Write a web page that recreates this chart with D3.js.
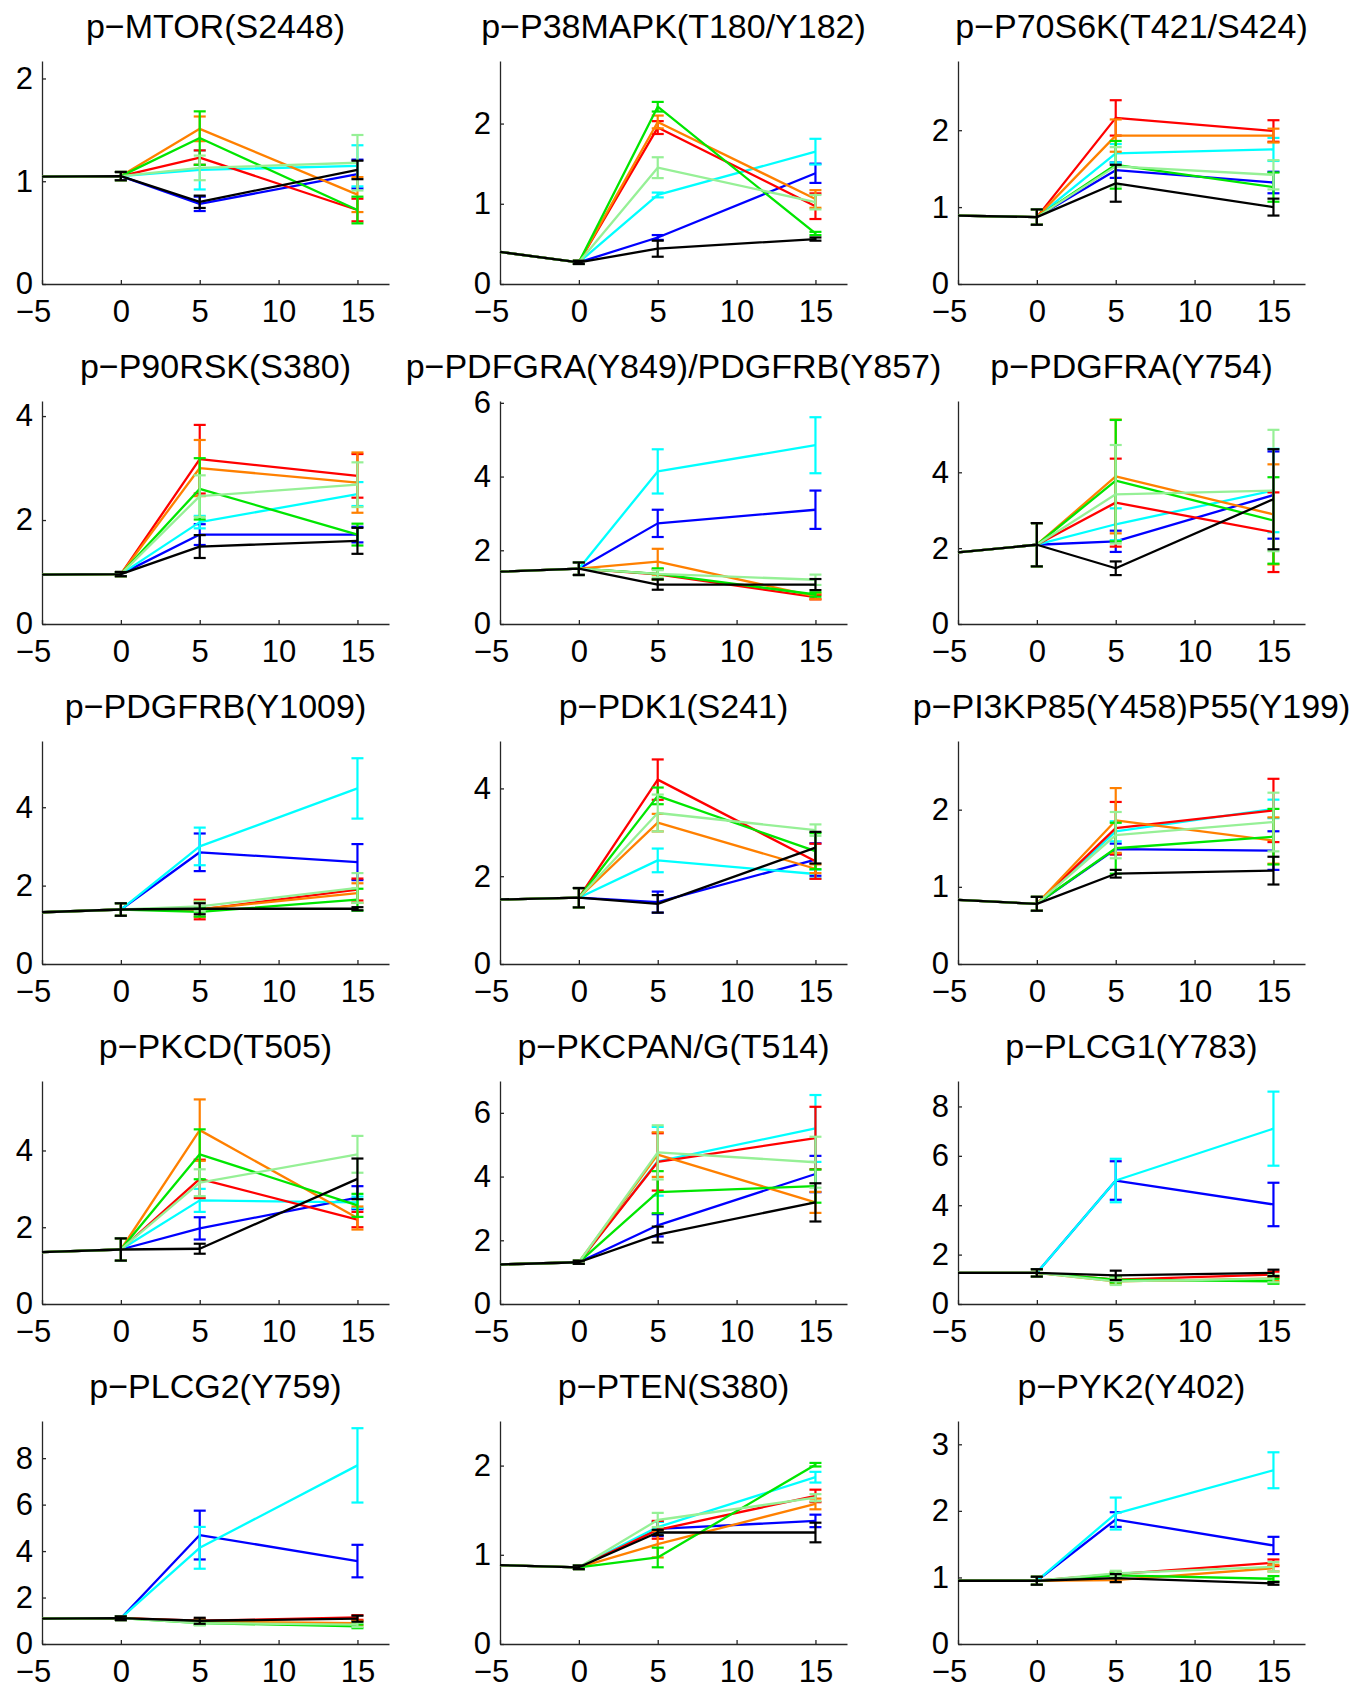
<!DOCTYPE html>
<html lang="en">
<head>
    <meta charset="UTF-8">
    <title>Phospho time courses</title>
    <script src="https://d3js.org/d3.v7.min.js"></script>
    <style>
        body { margin: 0; background: white; }
        svg text { font-family: 'Liberation Sans', Arial, Helvetica, sans-serif; fill: black; }
        .axis path, .axis line { stroke: #262626; stroke-width: 1.3; }
    </style>
</head>
<body>
    <div id="container"></div>
    <script>
        // panel titles
        const titles = [
            'p\u2212MTOR(S2448)', 'p\u2212P38MAPK(T180/Y182)', 'p\u2212P70S6K(T421/S424)',
            'p\u2212P90RSK(S380)', 'p\u2212PDFGRA(Y849)/PDGFRB(Y857)', 'p\u2212PDGFRA(Y754)',
            'p\u2212PDGFRB(Y1009)', 'p\u2212PDK1(S241)', 'p\u2212PI3KP85(Y458)P55(Y199)',
            'p\u2212PKCD(T505)', 'p\u2212PKCPAN/G(T514)', 'p\u2212PLCG1(Y783)',
            'p\u2212PLCG2(Y759)', 'p\u2212PTEN(S380)', 'p\u2212PYK2(Y402)'
        ];
        const times = [-5, 0, 5, 15];
        const xTicks = [-5, 0, 5, 10, 15];
        const yMax = [2.17, 2.78, 2.9, 4.29, 6.05, 5.88, 5.69, 5.08, 2.89, 5.81, 7.0, 9.03, 9.6, 2.5, 3.35];
        const yTicks = [
            [0, 1, 2], [0, 1, 2], [0, 1, 2], [0, 2, 4], [0, 2, 4, 6],
            [0, 2, 4], [0, 2, 4], [0, 2, 4], [0, 1, 2], [0, 2, 4],
            [0, 2, 4, 6], [0, 2, 4, 6, 8], [0, 2, 4, 6, 8], [0, 1, 2], [0, 1, 2, 3]
        ];
        // shared start: [value at -5, value at 0, error at 0]
        const start = [
            [1.045, 1.05, 0.04], [0.40, 0.27, 0.02], [0.89, 0.87, 0.10], [0.95, 0.96, 0.04], [1.42, 1.50, 0.17],
            [1.89, 2.09, 0.57], [1.32, 1.39, 0.16], [1.47, 1.51, 0.22], [0.83, 0.78, 0.09], [1.35, 1.42, 0.29],
            [1.24, 1.31, 0.05], [1.26, 1.26, 0.15], [1.09, 1.11, 0.08], [0.885, 0.86, 0.02], [0.95, 0.95, 0.06]
        ];
        // series order: red, orange, green, light green, cyan, blue, black
        const at5 = [
            [1.23, 1.51, 1.42, 1.13, 1.11, 0.78, 0.80],
            [1.95, 2.02, 2.21, 1.45, 1.11, 0.58, 0.44],
            [2.16, 1.93, 1.55, 1.53, 1.70, 1.48, 1.31],
            [3.17, 3.00, 2.60, 2.46, 1.96, 1.72, 1.49],
            [1.35, 1.69, 1.36, 1.36, 4.14, 2.73, 1.07],
            [3.20, 3.89, 3.78, 3.42, 2.63, 2.18, 1.47],
            [1.39, 1.40, 1.33, 1.47, 3.00, 2.85, 1.41],
            [4.20, 3.22, 3.83, 3.44, 2.36, 1.41, 1.37],
            [1.76, 1.86, 1.50, 1.67, 1.72, 1.49, 1.17],
            [3.26, 4.53, 3.90, 3.16, 2.70, 1.97, 1.44],
            [4.46, 4.69, 3.51, 4.76, 4.48, 2.47, 2.18],
            [0.99, 0.92, 0.99, 0.92, 5.00, 5.00, 1.16],
            [1.00, 0.97, 0.90, 0.90, 4.14, 4.69, 1.00],
            [1.28, 1.12, 0.97, 1.39, 1.31, 1.29, 1.25],
            [1.05, 0.96, 1.03, 1.06, 1.96, 1.87, 0.99]
        ];
        const err5 = [
            [0.07, 0.12, 0.26, 0.12, 0.19, 0.07, 0.06],
            [0.08, 0.08, 0.06, 0.13, 0.03, 0.03, 0.10],
            [0.23, 0.21, 0.31, 0.25, 0.12, 0.10, 0.24],
            [0.66, 0.54, 0.59, 0.40, 0.12, 0.20, 0.22],
            [0.14, 0.35, 0.15, 0.10, 0.60, 0.37, 0.14],
            [1.16, 1.50, 1.60, 1.30, 0.42, 0.28, 0.18],
            [0.25, 0.20, 0.12, 0.12, 0.48, 0.48, 0.14],
            [0.46, 0.20, 0.19, 0.42, 0.27, 0.24, 0.20],
            [0.34, 0.42, 0.33, 0.30, 0.13, 0.07, 0.05],
            [0.50, 0.80, 0.65, 0.35, 0.30, 0.29, 0.13],
            [0.90, 0.70, 0.66, 0.85, 1.08, 0.35, 0.25],
            [0.10, 0.10, 0.12, 0.15, 0.88, 0.78, 0.19],
            [0.08, 0.08, 0.08, 0.10, 0.90, 1.05, 0.13],
            [0.10, 0.15, 0.11, 0.08, 0.06, 0.08, 0.03],
            [0.03, 0.03, 0.04, 0.04, 0.24, 0.11, 0.06]
        ];
        const at15 = [
            [0.72, 0.87, 0.72, 1.18, 1.15, 1.07, 1.11],
            [0.97, 1.06, 0.63, 1.02, 1.65, 1.38, 0.56],
            [1.99, 1.93, 1.26, 1.42, 1.75, 1.32, 1.00],
            [2.85, 2.72, 1.72, 2.68, 2.50, 1.72, 1.60],
            [0.73, 0.75, 0.80, 1.20, 4.85, 3.10, 1.07],
            [2.42, 2.89, 2.73, 3.52, 3.52, 3.40, 3.29],
            [1.90, 1.81, 1.64, 1.94, 4.48, 2.60, 1.41],
            [2.34, 2.17, 2.57, 3.05, 2.05, 2.38, 2.65],
            [1.99, 1.60, 1.65, 1.84, 2.01, 1.47, 1.21],
            [2.20, 2.24, 2.57, 3.90, 2.65, 2.77, 3.26],
            [5.21, 3.19, 3.70, 4.45, 5.51, 4.08, 3.19],
            [1.19, 1.03, 0.92, 1.03, 7.10, 4.03, 1.26],
            [1.14, 0.90, 0.76, 0.83, 7.69, 3.57, 1.09],
            [1.66, 1.57, 2.01, 1.64, 1.87, 1.38, 1.25],
            [1.22, 1.14, 0.98, 1.16, 2.61, 1.48, 0.91]
        ];
        const err15 = [
            [0.11, 0.17, 0.13, 0.27, 0.20, 0.14, 0.09],
            [0.16, 0.11, 0.02, 0.09, 0.16, 0.12, 0.02],
            [0.14, 0.09, 0.19, 0.19, 0.15, 0.14, 0.11],
            [0.42, 0.58, 0.21, 0.43, 0.23, 0.15, 0.25],
            [0.06, 0.08, 0.06, 0.14, 0.76, 0.52, 0.15],
            [1.05, 1.32, 1.14, 1.60, 1.10, 1.15, 1.32],
            [0.28, 0.25, 0.28, 0.38, 0.77, 0.46, 0.04],
            [0.40, 0.10, 0.41, 0.13, 0.10, 0.37, 0.36],
            [0.41, 0.30, 0.36, 0.38, 0.12, 0.25, 0.18],
            [0.20, 0.30, 0.30, 0.48, 0.15, 0.30, 0.53],
            [0.98, 0.33, 0.52, 0.80, 1.05, 0.57, 0.60],
            [0.12, 0.10, 0.10, 0.15, 1.50, 0.88, 0.13],
            [0.10, 0.10, 0.08, 0.10, 1.60, 0.70, 0.13],
            [0.07, 0.06, 0.02, 0.04, 0.06, 0.07, 0.11],
            [0.05, 0.05, 0.04, 0.07, 0.27, 0.13, 0.02]
        ];

        // styling
        const colors = ['#ff0000', '#ff8000', '#00e600', '#96f096', '#00ffff', '#0000ff', '#000000'];
        const drawOrder = [5, 4, 0, 1, 2, 3, 6];

        const W = 1356, H = 1690;
        const plotLeft = 42, colStep = 458, plotTop = 61, rowStep = 340;
        const pw = 347, ph = 223;

        const svg = d3.select('#container').append('svg')
            .attr('width', W).attr('height', H);
        svg.append('rect').attr('width', W).attr('height', H).attr('fill', 'white');

        const x = d3.scaleLinear().domain([-5, 17]).range([0, pw]);
        const fmt = d3.format('~g');

        titles.forEach((title, p) => {
            const col = p % 3, row = Math.floor(p / 3);
            const g = svg.append('g')
                .attr('transform', `translate(${plotLeft + col * colStep},${plotTop + row * rowStep})`);
            const y = d3.scaleLinear().domain([0, yMax[p]]).range([ph, 0]);

            // title
            g.append('text').attr('x', pw / 2).attr('y', -23)
                .attr('text-anchor', 'middle').style('font-size', '34px').text(title);

            // axes
            const xa = g.append('g').attr('class', 'axis').attr('transform', `translate(0,${ph})`)
                .call(d3.axisBottom(x).tickValues(xTicks).tickFormat(fmt)
                    .tickSize(-4).tickSizeOuter(0).tickPadding(16));
            xa.selectAll('text').style('font-size', '31px')
                .attr('dx', d => d < 0 ? -9 : 0);
            const ya = g.append('g').attr('class', 'axis')
                .call(d3.axisLeft(y).tickValues(yTicks[p]).tickFormat(fmt)
                    .tickSize(-4).tickSizeOuter(0).tickPadding(9));
            ya.selectAll('text').style('font-size', '31px');

            // series
            drawOrder.forEach(s => {
                const pts = [
                    {t: times[0], v: start[p][0], e: null},
                    {t: times[1], v: start[p][1], e: start[p][2]},
                    {t: times[2], v: at5[p][s], e: err5[p][s]},
                    {t: times[3], v: at15[p][s], e: err15[p][s]}
                ];
                const line = d3.line().x(d => x(d.t)).y(d => y(d.v));
                g.append('path').datum(pts)
                    .attr('fill', 'none').attr('stroke', colors[s])
                    .attr('stroke-width', 2.3).attr('stroke-linejoin', 'round')
                    .attr('d', line);

                const bars = pts.filter(d => d.e !== null);
                const eg = g.append('g').attr('stroke', colors[s]).attr('stroke-width', 2.2);
                eg.selectAll('.v').data(bars).join('line')
                    .attr('x1', d => x(d.t)).attr('x2', d => x(d.t))
                    .attr('y1', d => y(d.v - d.e)).attr('y2', d => y(d.v + d.e));
                eg.selectAll('.top').data(bars).join('line')
                    .attr('x1', d => x(d.t) - 6).attr('x2', d => x(d.t) + 6)
                    .attr('y1', d => y(d.v + d.e)).attr('y2', d => y(d.v + d.e));
                eg.selectAll('.bot').data(bars).join('line')
                    .attr('x1', d => x(d.t) - 6).attr('x2', d => x(d.t) + 6)
                    .attr('y1', d => y(d.v - d.e)).attr('y2', d => y(d.v - d.e));
            });
        });
    </script>
</body>
</html>
